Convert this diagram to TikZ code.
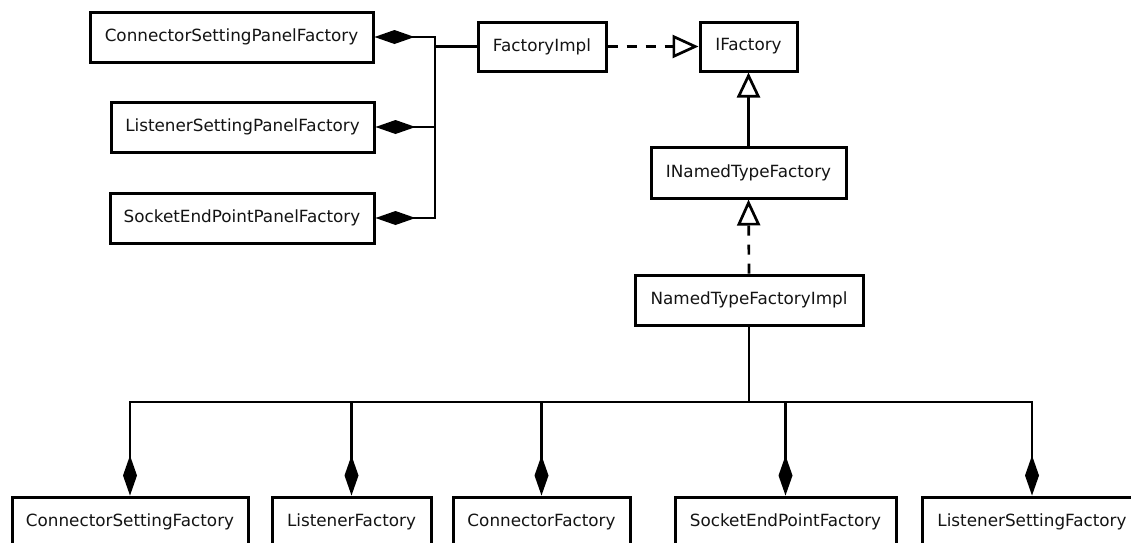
\documentclass[tikz,border=0pt]{standalone}
\usepackage{fontspec}
\setmainfont{DejaVu Sans}
\usetikzlibrary{arrows.meta}
\begin{document}
\begin{tikzpicture}[x=1pt,y=-1pt,
  cls/.style={draw=black, line width=3pt, fill=white, inner sep=0pt,
    minimum height=50pt, font=\fontsize{16.8}{19}\selectfont, text=black!92},
  link/.style={line width=2.7pt, line join=miter},
  comp/.style={link, -{Diamond[length=40pt,width=14pt,fill=black]}},
  realize/.style={link, dash pattern=on 10pt off 9pt,
    -{Triangle[open,fill=white,length=26pt,width=23pt]}},
  inherit/.style={link, -{Triangle[open,fill=white,length=25pt,width=23pt]}}]
\useasboundingbox (0,0) rectangle (1131,542);

% panel factories on the left
\node[cls, minimum width=283pt] (cspf) at (231.5,37) {ConnectorSettingPanelFactory};
\node[cls, minimum width=263pt] (lspf) at (242.5,127) {ListenerSettingPanelFactory};
\node[cls, minimum width=264pt] (sepf) at (242,218) {SocketEndPointPanelFactory};

% factory interfaces and implementations
\node[cls, minimum width=128pt, minimum height=49pt] (fimpl) at (542,46.5) {FactoryImpl};
\node[cls, minimum width=97pt, minimum height=49pt] (ifac) at (748.5,46.5) {IFactory};
\node[cls, minimum width=195pt, minimum height=51pt] (intf) at (748.5,172.5) {INamedTypeFactory};
\node[cls, minimum width=228pt] (ntfi) at (749,300) {NamedTypeFactoryImpl};

% concrete factories along the bottom
\node[cls, minimum width=236pt] (csf) at (130,522) {ConnectorSettingFactory};
\node[cls, minimum width=159pt] (lf) at (351.5,522) {ListenerFactory};
\node[cls, minimum width=177pt] (cf) at (541.5,522) {ConnectorFactory};
\node[cls, minimum width=221pt] (sef) at (785.5,522) {SocketEndPointFactory};
\node[cls, minimum width=220pt] (lsf) at (1032,522) {ListenerSettingFactory};

% junction points
\coordinate (hub) at (435,46.5);
\coordinate (bus) at (749,402);

% FactoryImpl owns the panel factories
\draw[link, line width=3.2pt] (fimpl.west) -- (hub);
\draw[comp] (hub) |- (cspf.east);
\draw[comp] (hub) |- (lspf.east);
\draw[comp] (hub) |- (sepf.east);

% realization and inheritance
\draw[realize] (fimpl.east) -- (ifac.west);
\draw[inherit] (intf.north) -- (ifac.south);
\draw[realize] (ntfi.north) -- (intf.south);

% NamedTypeFactoryImpl owns the concrete factories
\draw[link] (ntfi.south) -- (bus);
\foreach \b in {csf,lf,cf,sef,lsf}
  \draw[comp] (bus) -| (\b.north);
\end{tikzpicture}
\end{document}
